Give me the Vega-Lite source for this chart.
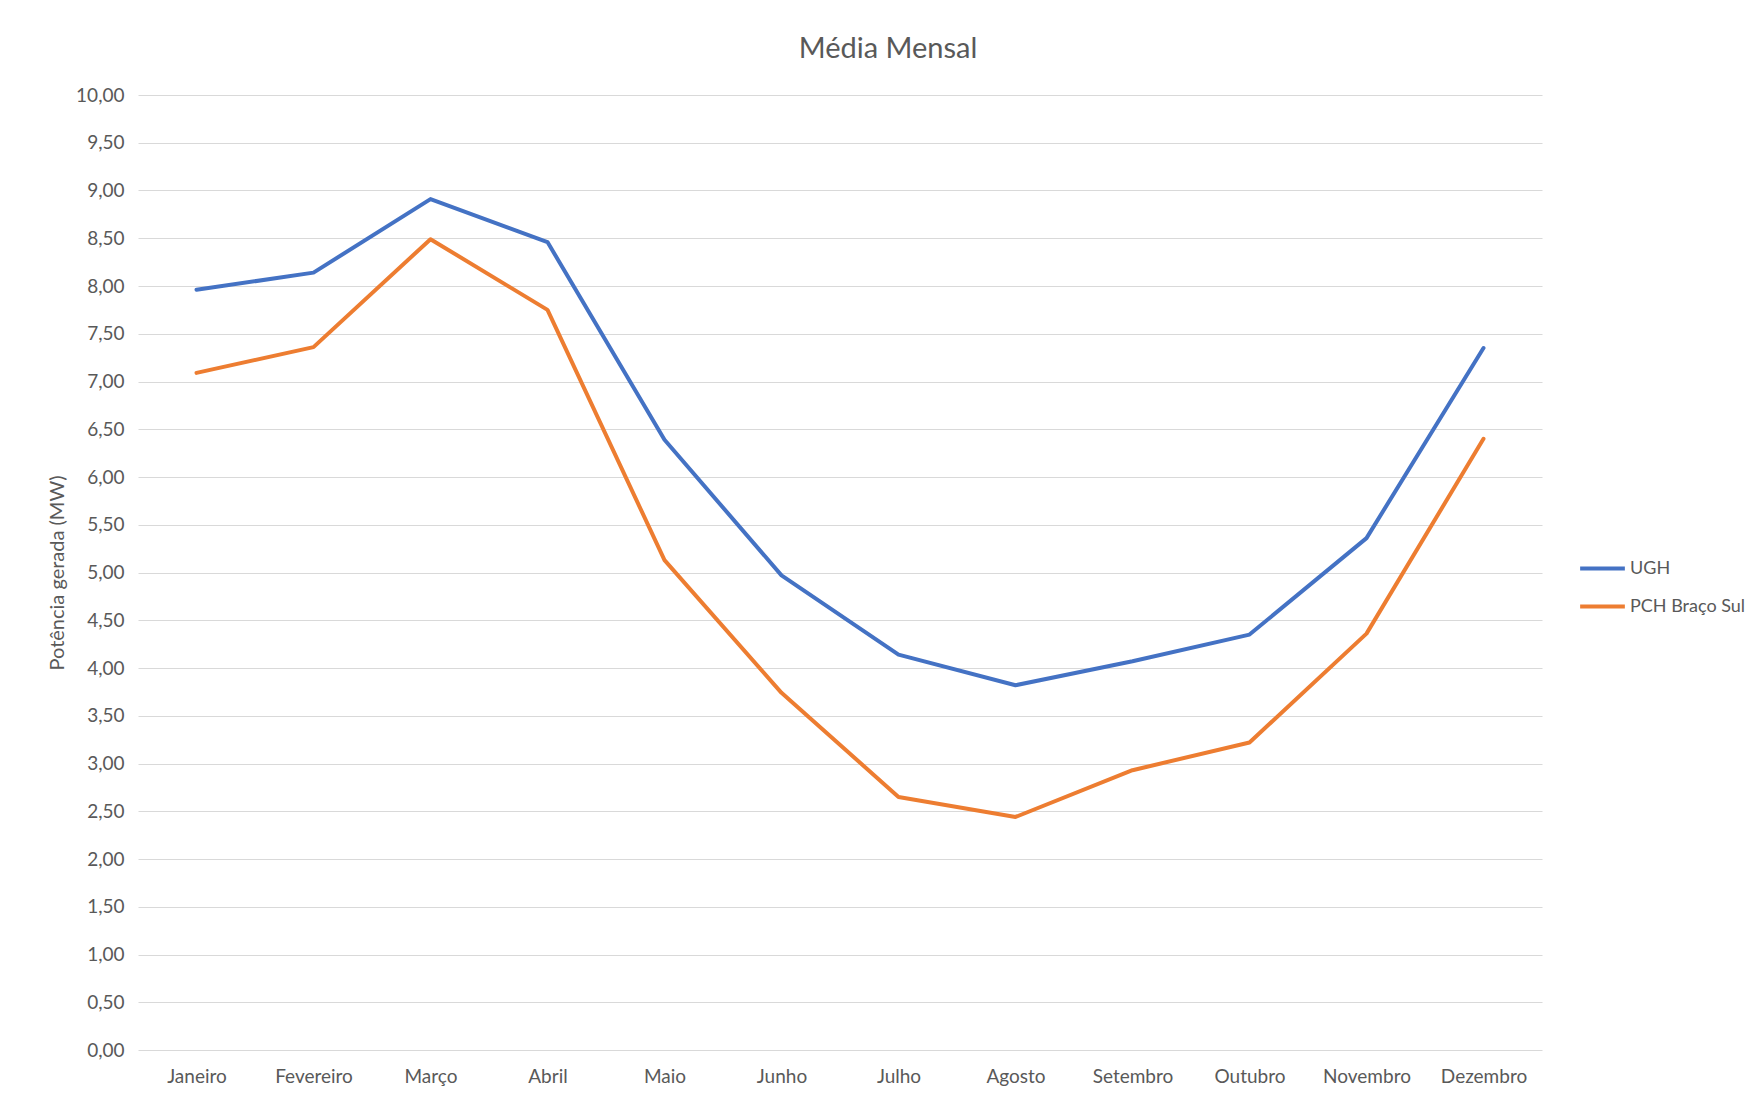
{
  "$schema": "https://vega.github.io/schema/vega-lite/v6.json",
  "width": 1404,
  "height": 955,
  "autosize": {"type": "none"},
  "padding": {"left": 138, "top": 95, "right": 222, "bottom": 50},
  "background": "white",
  "title": {
    "text": "Média Mensal",
    "font": "Lato",
    "fontSize": 29,
    "fontWeight": "normal",
    "color": "#595959",
    "anchor": "middle",
    "dx": 48,
    "offset": 22
  },
  "data": {
    "values": [
      {"mes": "Janeiro", "serie": "UGH", "valor": 7.96},
      {"mes": "Fevereiro", "serie": "UGH", "valor": 8.14},
      {"mes": "Março", "serie": "UGH", "valor": 8.91},
      {"mes": "Abril", "serie": "UGH", "valor": 8.46},
      {"mes": "Maio", "serie": "UGH", "valor": 6.39},
      {"mes": "Junho", "serie": "UGH", "valor": 4.97},
      {"mes": "Julho", "serie": "UGH", "valor": 4.14},
      {"mes": "Agosto", "serie": "UGH", "valor": 3.82},
      {"mes": "Setembro", "serie": "UGH", "valor": 4.07},
      {"mes": "Outubro", "serie": "UGH", "valor": 4.35},
      {"mes": "Novembro", "serie": "UGH", "valor": 5.36},
      {"mes": "Dezembro", "serie": "UGH", "valor": 7.35},
      {"mes": "Janeiro", "serie": "PCH Braço Sul", "valor": 7.09},
      {"mes": "Fevereiro", "serie": "PCH Braço Sul", "valor": 7.36},
      {"mes": "Março", "serie": "PCH Braço Sul", "valor": 8.49},
      {"mes": "Abril", "serie": "PCH Braço Sul", "valor": 7.75},
      {"mes": "Maio", "serie": "PCH Braço Sul", "valor": 5.13},
      {"mes": "Junho", "serie": "PCH Braço Sul", "valor": 3.74},
      {"mes": "Julho", "serie": "PCH Braço Sul", "valor": 2.65},
      {"mes": "Agosto", "serie": "PCH Braço Sul", "valor": 2.44},
      {"mes": "Setembro", "serie": "PCH Braço Sul", "valor": 2.93},
      {"mes": "Outubro", "serie": "PCH Braço Sul", "valor": 3.22},
      {"mes": "Novembro", "serie": "PCH Braço Sul", "valor": 4.36},
      {"mes": "Dezembro", "serie": "PCH Braço Sul", "valor": 6.40}
    ]
  },
  "mark": {"type": "line", "strokeWidth": 4, "strokeCap": "round", "strokeJoin": "round"},
  "encoding": {
    "x": {
      "field": "mes",
      "type": "ordinal",
      "sort": null,
      "scale": {"type": "point", "padding": 0.5},
      "axis": {
        "title": null,
        "labelAngle": 0,
        "labelFont": "Lato",
        "labelFontSize": 19,
        "labelColor": "#595959",
        "labelPadding": 17,
        "ticks": false,
        "domain": false,
        "grid": false
      }
    },
    "y": {
      "field": "valor",
      "type": "quantitative",
      "scale": {"domain": [0, 10], "nice": false},
      "axis": {
        "title": "Potência gerada (MW)",
        "titleFont": "Lato",
        "titleFontSize": 20,
        "titleFontWeight": "normal",
        "titleColor": "#595959",
        "titlePadding": 8,
        "values": [0, 0.5, 1, 1.5, 2, 2.5, 3, 3.5, 4, 4.5, 5, 5.5, 6, 6.5, 7, 7.5, 8, 8.5, 9, 9.5, 10],
        "labelExpr": "replace(format(datum.value, '.2f'), '.', ',')",
        "labelFont": "Lato",
        "labelFontSize": 19,
        "labelColor": "#595959",
        "labelPadding": 14,
        "ticks": false,
        "domain": false,
        "grid": true,
        "gridColor": "#D9D9D9",
        "gridWidth": 1
      }
    },
    "color": {
      "field": "serie",
      "type": "nominal",
      "sort": ["UGH", "PCH Braço Sul"],
      "scale": {"domain": ["UGH", "PCH Braço Sul"], "range": ["#4472C4", "#ED7D31"]},
      "legend": {
        "title": null,
        "orient": "none",
        "legendX": 1440,
        "legendY": 449,
        "symbolType": "stroke",
        "symbolStrokeWidth": 4,
        "symbolSize": 2000,
        "labelFont": "Lato",
        "labelFontSize": 18,
        "labelColor": "#595959",
        "labelOffset": 3,
        "rowPadding": 4
      }
    }
  },
  "config": {
    "view": {"stroke": null}
  }
}
